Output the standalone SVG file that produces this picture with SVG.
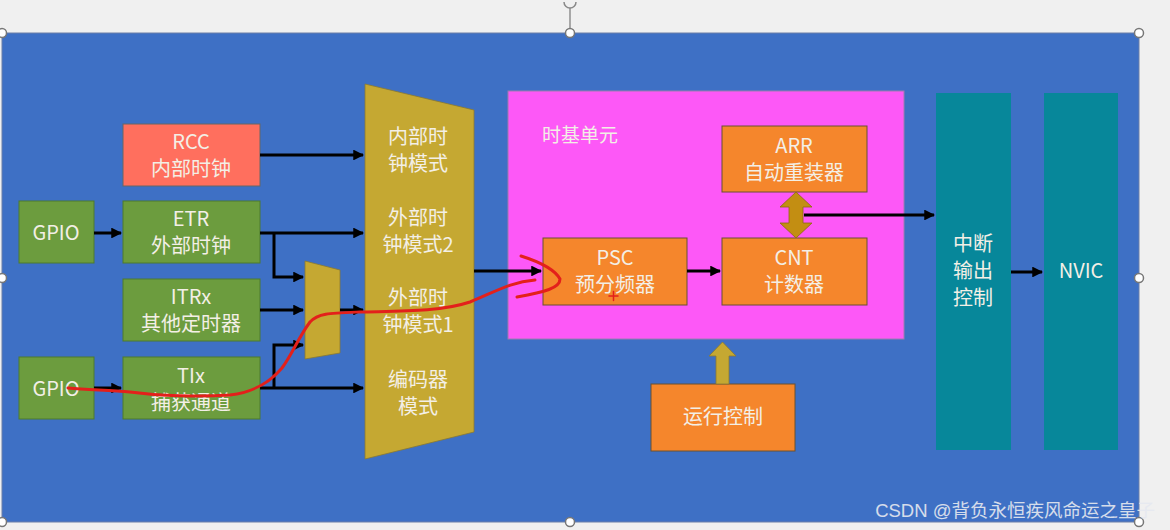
<svg xmlns="http://www.w3.org/2000/svg" width="1170" height="530" viewBox="0 0 1170 530">
<defs>
<marker id="ah" viewBox="0 0 10 10" refX="9" refY="5" markerWidth="3.6" markerHeight="3.6" orient="auto" markerUnits="strokeWidth">
<path d="M0,0 L10,5 L0,10 z" fill="#000"/>
</marker>
</defs>
<style>
text{font-family:"Noto Sans CJK SC","Liberation Sans",sans-serif;fill:#f3efe6;font-size:20px;text-anchor:middle}
.green{fill:#6c9c3e;stroke:#4d7a2e;stroke-width:1}
.orange{fill:#f5862c;stroke:#6b5030;stroke-width:1}
.teal{fill:#07879a}
.gold{fill:#c5a832;stroke:#8a7a30;stroke-width:0.8}
.conn{stroke:#000;stroke-width:3;fill:none}
.handle{fill:#fff;stroke:#777;stroke-width:1.5}
</style>
<rect width="1170" height="530" fill="#f0f0f0"/>
<rect x="2" y="33" width="1137" height="489" fill="#3e70c5" stroke="#6a7fa8" stroke-width="1"/>

<g id="rcc"><rect x="123" y="124" width="137" height="62" fill="#ff6f5e" stroke="#666" stroke-width="1"/><text x="191" y="149">RCC<tspan x="191" dy="27">内部时钟</tspan></text></g>
<g id="gpio1"><rect class="green" x="19" y="201" width="75" height="62"/><text x="56" y="240">GPIO</text></g>
<g id="etr"><rect class="green" x="123" y="201" width="137" height="62"/><text x="191" y="226">ETR<tspan x="191" dy="27">外部时钟</tspan></text></g>
<g id="itrx"><rect class="green" x="123" y="279" width="137" height="62"/><text x="191" y="304">ITRx<tspan x="191" dy="27">其他定时器</tspan></text></g>
<g id="gpio2"><rect class="green" x="19" y="357" width="75" height="62"/><text x="56" y="396">GPIO</text></g>
<g id="tix"><rect class="green" x="123" y="357" width="137" height="62"/><text x="191" y="383">TIx<tspan x="191" dy="27">捕获通道</tspan></text></g>
<g id="mux"><polygon class="gold" points="305,261 340,270 340,353 305,359"/></g>
<g id="mode"><polygon class="gold" points="365,84 474,110 474,432 365,459"/>
<text x="418" y="144">内部时<tspan x="418" dy="27">钟模式</tspan></text>
<text x="418" y="225">外部时<tspan x="418" dy="27">钟模式2</tspan></text>
<text x="418" y="305">外部时<tspan x="418" dy="27">钟模式1</tspan></text>
<text x="418" y="387">编码器<tspan x="418" dy="27">模式</tspan></text></g>
<g id="timebase"><rect x="508" y="91" width="396" height="248" fill="#fd58f7" stroke="#a07ab0" stroke-width="1"/><text x="542" y="142" style="text-anchor:start;font-size:19px">时基单元</text></g>
<g id="arr"><rect class="orange" x="722" y="126" width="145" height="66"/><text x="794" y="153">ARR<tspan x="794" dy="27">自动重装器</tspan></text></g>
<g id="psc"><rect class="orange" x="543" y="238" width="144" height="67"/><text x="615" y="265">PSC<tspan x="615" dy="27">预分频器</tspan></text></g>
<g id="cnt"><rect class="orange" x="722" y="238" width="145" height="67"/><text x="794" y="265">CNT<tspan x="794" dy="27">计数器</tspan></text></g>
<g id="run"><rect class="orange" x="651" y="384" width="144" height="67"/><text x="723" y="424">运行控制</text></g>
<g id="irq"><rect class="teal" x="936" y="93" width="75" height="357"/><text x="973" y="251">中断<tspan x="973" dy="27">输出</tspan><tspan x="973" dy="27">控制</tspan></text></g>
<g id="nvic"><rect class="teal" x="1044" y="93" width="74" height="357"/><text x="1081" y="278">NVIC</text></g>

<g id="connectors">
<path class="conn" d="M260,155 H363" marker-end="url(#ah)"/>
<path class="conn" d="M94,233 H121" marker-end="url(#ah)"/>
<path class="conn" d="M260,233 H363" marker-end="url(#ah)"/>
<path class="conn" d="M274,233 V277 H303" marker-end="url(#ah)"/>
<path class="conn" d="M260,310 H303" marker-end="url(#ah)"/>
<path class="conn" d="M340,310 H363" marker-end="url(#ah)"/>
<path class="conn" d="M94,388 H121" marker-end="url(#ah)"/>
<path class="conn" d="M260,388 H363" marker-end="url(#ah)"/>
<path class="conn" d="M274,388 V345 H303" marker-end="url(#ah)"/>
<path class="conn" d="M474,271 H541" marker-end="url(#ah)"/>
<path class="conn" d="M687,271 H720" marker-end="url(#ah)"/>
<path class="conn" d="M804,215 H934" marker-end="url(#ah)"/>
<path class="conn" d="M1011,272 H1042" marker-end="url(#ah)"/>
<polygon points="796,192 812,207 803,207 803,223 812,223 796,238 780,223 789,223 789,207 780,207" fill="#c38e12" stroke="#8a6a10" stroke-width="0.8"/>
<polygon points="722.5,342 736,356 729,356 729,384 716,384 716,356 709,356" fill="#c5a832" stroke="#8a7a30" stroke-width="0.8"/>
</g>

<g id="annotation" fill="none" stroke="#e3201b" stroke-width="3" stroke-linecap="round" stroke-linejoin="round">
<path d="M68,388 C90,390 110,390 130,392 C160,396 200,397 230,395 C255,392 270,382 282,368 C292,355 298,338 310,322 C318,313 330,313 360,312 C400,311 440,312 470,302 C495,292 510,282 535,280"/>
<path d="M521,256 C540,262 555,270 560,279 C560,288 545,292 517,297"/>
<path d="M609,296 H618 M613.5,291.5 V300.5" stroke-width="1.5"/>
</g>

<g id="handles">
<path d="M570,33 V8" stroke="#777" stroke-width="1.2"/>
<path d="M564,2 A6,6 0 1 0 576,2" fill="none" stroke="#888" stroke-width="1.5"/>
<circle class="handle" cx="2" cy="33" r="4.5"/>
<circle class="handle" cx="570" cy="33" r="4.5"/>
<circle class="handle" cx="1139" cy="33" r="4.5"/>
<circle class="handle" cx="2" cy="278" r="4.5"/>
<circle class="handle" cx="1139" cy="278" r="4.5"/>
<circle class="handle" cx="2" cy="522" r="4.5"/>
<circle class="handle" cx="570" cy="522" r="4.5"/>
<circle class="handle" cx="1139" cy="522" r="4.5"/>
</g>
<text x="1155" y="517" style="text-anchor:end;font-size:18.5px;fill:#e6e9f0;opacity:0.9;font-family:'Liberation Sans','Noto Sans CJK SC',sans-serif">CSDN @背负永恒疾风命运之皇子</text>
</svg>
